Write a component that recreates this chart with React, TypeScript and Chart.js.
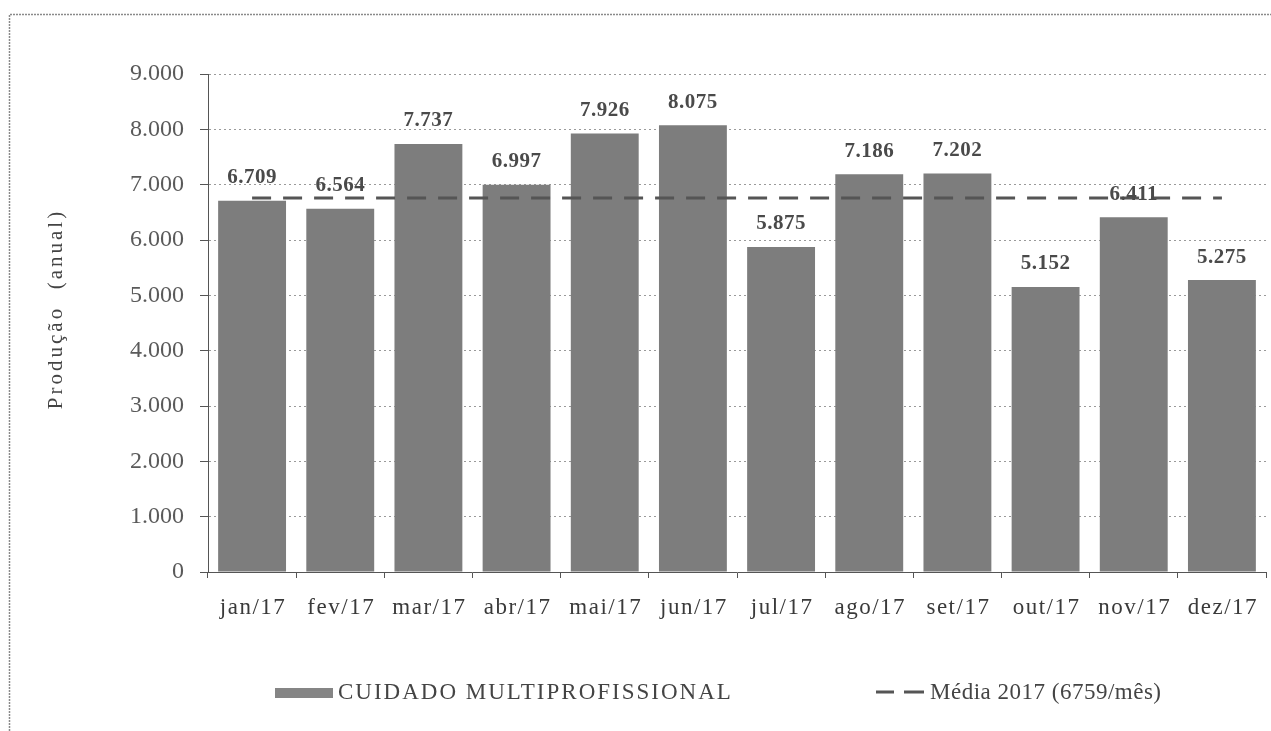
import React, { useEffect, useRef } from "react";
import { Chart, registerables } from "chart.js";

Chart.register(...registerables);

const months = ["jan/17", "fev/17", "mar/17", "abr/17", "mai/17", "jun/17", "jul/17", "ago/17", "set/17", "out/17", "nov/17", "dez/17"];
const production = [6709, 6564, 7737, 6997, 7926, 8075, 5875, 7186, 7202, 5152, 6411, 5275];
const AVERAGE = 6759;
const averageLine = months.map(() => AVERAGE);
const barLabel = "CUIDADO MULTIPROFISSIONAL";
const lineLabel = "Média 2017 (6759/mês)";
const yTitle = "Produção  (anual)";

const SERIF = "'Liberation Serif', 'Times New Roman', serif";

const fmt = (n: number) => Math.round(n).toString().replace(/\B(?=(\d{3})+(?!\d))/g, ".");

export default function App() {
  const ref = useRef<HTMLCanvasElement | null>(null);

  useEffect(() => {
    document.body.style.margin = "0";
    const canvas = ref.current;
    if (!canvas) return;

    const decor = {
      id: "decor",
      beforeDraw(chart: any) {
        const ctx = chart.ctx;
        ctx.save();
        ctx.strokeStyle = "#8a8a8a";
        ctx.lineWidth = 1.5;
        ctx.setLineDash([2, 1]);
        ctx.beginPath();
        ctx.moveTo(9.5, 731);
        ctx.lineTo(9.5, 14.5);
        ctx.lineTo(1271, 14.5);
        ctx.stroke();
        ctx.restore();
      },
      afterDraw(chart: any) {
        const ctx = chart.ctx;
        // x tick labels
        const xs = chart.scales.x;
        ctx.save();
        ctx.font = `23px ${SERIF}`;
        (ctx as any).letterSpacing = "1.5px";
        ctx.fillStyle = "#3a3a3a";
        ctx.textAlign = "center";
        ctx.textBaseline = "alphabetic";
        months.forEach((m, i) => {
          ctx.fillText(m, xs.getPixelForTick(i) + 1, 614);
        });
        ctx.restore();

        // y title
        ctx.save();
        ctx.translate(56, 309);
        ctx.rotate(-Math.PI / 2);
        ctx.font = `21px ${SERIF}`;
        (ctx as any).letterSpacing = "3px";
        ctx.fillStyle = "#444";
        ctx.textAlign = "center";
        ctx.textBaseline = "middle";
        ctx.fillText(yTitle, 0, 0);
        ctx.restore();

        // data labels
        const meta = chart.getDatasetMeta(0);
        ctx.save();
        ctx.font = `bold 21px ${SERIF}`;
        (ctx as any).letterSpacing = "0.5px";
        ctx.fillStyle = "#4a4a4a";
        ctx.textAlign = "center";
        ctx.textBaseline = "middle";
        meta.data.forEach((el: any, i: number) => {
          ctx.fillText(fmt(production[i]), el.x, el.y - 23);
        });
        ctx.restore();

        // legend
        ctx.save();
        ctx.fillStyle = "#858585";
        ctx.fillRect(275, 688, 58, 10);
        ctx.font = `23px ${SERIF}`;
        ctx.fillStyle = "#444";
        ctx.textAlign = "left";
        ctx.textBaseline = "middle";
        (ctx as any).letterSpacing = "2px";
        ctx.fillText(barLabel, 338, 693);
        ctx.strokeStyle = "#555";
        ctx.lineWidth = 3;
        ctx.beginPath();
        ctx.moveTo(876, 692);
        ctx.lineTo(894, 692);
        ctx.moveTo(904, 692);
        ctx.lineTo(924, 692);
        ctx.stroke();
        (ctx as any).letterSpacing = "0.5px";
        ctx.fillText(lineLabel, 930, 693);
        ctx.restore();
      },
    };

    const chart = new Chart(canvas, {
      type: "bar",
      data: {
        labels: months,
        datasets: [
          {
            type: "bar",
            label: barLabel,
            data: production,
            backgroundColor: "#7d7d7d",
            borderWidth: 0,
            barPercentage: 0.77,
            categoryPercentage: 1,
            order: 1,
          },
          {
            type: "line",
            label: lineLabel,
            data: averageLine,
            borderColor: "#555",
            borderWidth: 3,
            borderDash: [19, 12],
            pointRadius: 0,
            fill: false,
            order: 0,
          } as any,
        ],
      },
      options: {
        responsive: false,
        animation: false,
        layout: { padding: { left: 0, right: 5, top: 74, bottom: 0 } },
        plugins: {
          legend: { display: false },
          tooltip: { enabled: false },
        },
        scales: {
          x: {
            offset: true,
            grid: {
              offset: true,
              drawOnChartArea: false,
              drawTicks: true,
              tickLength: 6,
              tickColor: "#555",
            },
            border: { color: "#555", width: 1 },
            ticks: {
              display: false,
              autoSkip: false,
            },
            afterFit(scale: any) {
              scale.height = 159;
            },
          },
          y: {
            min: 0,
            max: 9000,
            ticks: {
              stepSize: 1000,
              font: { family: SERIF, size: 24 },
              color: "#5a5a5a",
              padding: 16,
              callback: (v: any) => fmt(Number(v)),
            },
            grid: {
              color: "#9a9a9a",
              lineWidth: 1,
              tickLength: 8,
              tickColor: "#555",
              tickBorderDash: [],
            } as any,
            border: { color: "#555", width: 1, dash: [2, 3] },
            title: { display: false },
            afterFit(scale: any) {
              scale.width = 208;
            },
          },
        },
      } as any,
      plugins: [decor],
    });

    return () => chart.destroy();
  }, []);

  return (
    <div style={{ width: 1271, height: 731, background: "#fff" }}>
      <canvas ref={ref} width={1271} height={731} />
    </div>
  );
}
